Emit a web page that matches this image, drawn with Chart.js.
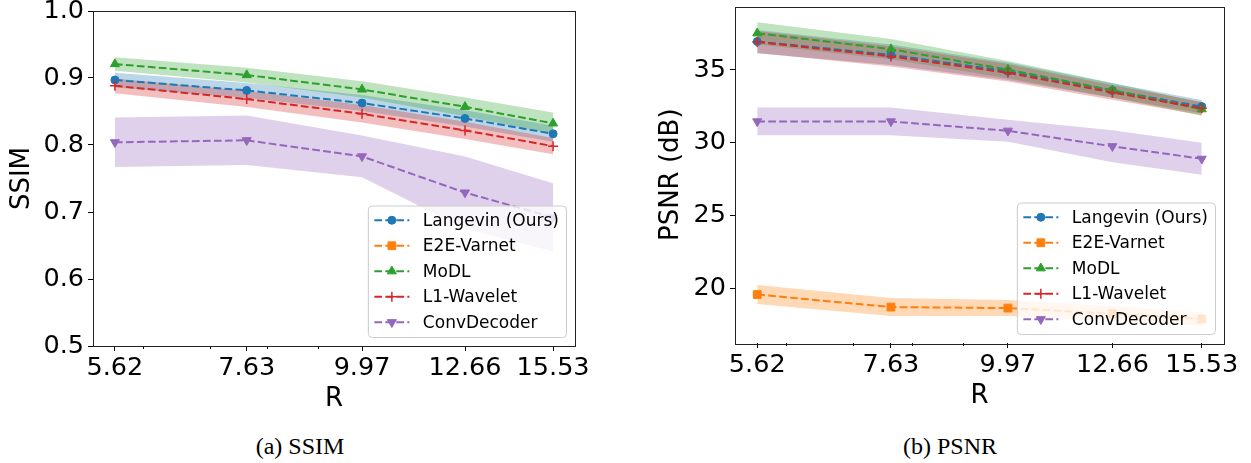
<!DOCTYPE html>
<html>
<head>
<meta charset="utf-8">
<script src="https://cdn.jsdelivr.net/npm/chart.js@4.4.0/dist/chart.umd.min.js"></script>
<style>
  body { margin: 0; background: #fff; width: 1251px; height: 463px; overflow: hidden; position: relative; }
  canvas { position: absolute; top: 0; }
  #ssim { left: 0; }
  #psnr { left: 620px; }
  .cap { position: absolute; top: 433px; font-family: 'Liberation Serif', serif; font-size: 24px; color: #000; transform: translateX(-50%); white-space: nowrap; }
</style>
</head>
<body>
<canvas id="ssim" width="620" height="420"></canvas>
<canvas id="psnr" width="631" height="420"></canvas>
<div class="cap" style="left:300px">(a) SSIM</div>
<div class="cap" style="left:950px">(b) PSNR</div>
<script>
// acceleration factors on the x axis
const R = [5.62, 7.63, 9.97, 12.66, 15.53];
const R_LABELS = ['5.62', '7.63', '9.97', '12.66', '15.53'];
const MINOR_R = [6, 7, 8, 9];

const METHODS = ['Langevin (Ours)', 'E2E-Varnet', 'MoDL', 'L1-Wavelet', 'ConvDecoder'];
const COLORS = ['31,119,180', '255,127,14', '44,160,44', '214,39,40', '148,103,189'];

// SSIM mean / std per method (E2E-Varnet falls below the plotted range)
const SSIM_LANGEVIN = [0.897, 0.8815, 0.8626, 0.8397, 0.8167];
const SSIM_LANGEVIN_STD = [0.011, 0.011, 0.012, 0.012, 0.012];
const SSIM_E2E = [null, null, null, null, null];
const SSIM_E2E_STD = [null, null, null, null, null];
const SSIM_MODL = [0.9208, 0.9044, 0.883, 0.857, 0.8323];
const SSIM_MODL_STD = [0.010, 0.011, 0.012, 0.014, 0.016];
const SSIM_L1 = [0.8884, 0.8686, 0.8466, 0.8218, 0.7983];
const SSIM_L1_STD = [0.011, 0.012, 0.013, 0.013, 0.012];
const SSIM_CONV = [0.804, 0.807, 0.783, 0.729, 0.692];
const SSIM_CONV_STD = [0.037, 0.037, 0.031, 0.054, 0.051];
const SSIM_TICKS = [0.5, 0.6, 0.7, 0.8, 0.9, 1.0];

// PSNR mean / std per method
const PSNR_LANGEVIN = [36.95, 36.04, 34.91, 33.58, 32.48];
const PSNR_LANGEVIN_STD = [0.8, 0.7, 0.6, 0.5, 0.45];
const PSNR_E2E = [19.56, 18.7, 18.63, 18.25, 17.88];
const PSNR_E2E_STD = [0.65, 0.62, 0.55, 0.5, 0.45];
const PSNR_MODL = [37.52, 36.43, 35.02, 33.6, 32.3];
const PSNR_MODL_STD = [0.75, 0.7, 0.6, 0.5, 0.45];
const PSNR_L1 = [36.92, 35.93, 34.8, 33.45, 32.36];
const PSNR_L1_STD = [0.75, 0.7, 0.6, 0.5, 0.45];
const PSNR_CONV = [31.46, 31.46, 30.82, 29.75, 28.89];
const PSNR_CONV_STD = [0.95, 0.95, 0.75, 1.1, 1.1];
const PSNR_TICKS = [20, 25, 30, 35];

const MARKERS = [
  { pointStyle: 'circle', radius: 4, rotation: 0 },
  { pointStyle: 'rect', radius: 5.5, rotation: 0 },
  { pointStyle: 'triangle', radius: 5.2, rotation: 0 },
  { pointStyle: 'cross', radius: 5, rotation: 0 },
  { pointStyle: 'triangle', radius: 5.2, rotation: 180 }
];

const FONT = "'DejaVu Sans'";

function pts(vals, off, sign) {
  return R.map((x, i) => ({
    x: x,
    y: vals[i] == null ? null : vals[i] + (off ? sign * off[i] : 0)
  }));
}

function buildDatasets(means, stds) {
  const bands = [], lines = [];
  means.forEach((m, i) => {
    const c = COLORS[i];
    bands.push({
      data: pts(m, stds[i], 1), borderColor: 'rgba(0,0,0,0)', borderWidth: 0,
      pointRadius: 0, fill: false, order: 20 - i, tension: 0
    });
    bands.push({
      data: pts(m, stds[i], -1), borderColor: 'rgba(0,0,0,0)', borderWidth: 0,
      pointRadius: 0, fill: 2 * i, backgroundColor: 'rgba(' + c + ',0.3)', order: 20 - i, tension: 0
    });
    lines.push({
      label: METHODS[i], data: pts(m), borderColor: 'rgb(' + c + ')', backgroundColor: 'rgb(' + c + ')',
      borderWidth: 2, borderDash: [7.7, 3.3], fill: false, tension: 0,
      pointStyle: MARKERS[i].pointStyle, pointRadius: MARKERS[i].radius,
      pointRotation: MARKERS[i].rotation, pointBorderWidth: i === 3 ? 1.5 : 1,
      pointBorderColor: 'rgb(' + c + ')', pointBackgroundColor: 'rgb(' + c + ')',
      order: 10 - i
    });
  });
  return bands.concat(lines);
}

// frame, minor ticks and a matplotlib-like legend in the lower right
const decor = {
  id: 'decor',
  afterDatasetsDraw(chart) {
    const ctx = chart.ctx, a = chart.chartArea, xs = chart.scales.x;
    ctx.save();
    ctx.strokeStyle = '#000';
    ctx.lineWidth = 1;
    MINOR_R.forEach(v => {
      const px = Math.round(xs.getPixelForValue(v)) + 0.5;
      ctx.beginPath();
      ctx.moveTo(px, a.bottom);
      ctx.lineTo(px, a.bottom + 3);
      ctx.stroke();
    });
    ctx.strokeStyle = '#222';
    ctx.strokeRect(Math.round(a.left) + 0.5, Math.round(a.top) + 0.5,
      Math.round(a.right - a.left), Math.round(a.bottom - a.top));

    const lines = chart.data.datasets.filter(d => d.label);
    ctx.font = '17px ' + FONT;
    const textW = Math.max(...lines.map(d => ctx.measureText(d.label).width));
    const rowH = 25.5;
    const w = 55 + textW + 7, h = lines.length * rowH + 4;
    const bx = a.right - 9 - w, by = a.bottom - 9 - h;
    ctx.beginPath();
    ctx.roundRect(bx + 0.5, by + 0.5, w, h, 4);
    ctx.fillStyle = 'rgba(255,255,255,0.8)';
    ctx.fill();
    ctx.strokeStyle = '#cccccc';
    ctx.stroke();
    lines.forEach((d, i) => {
      const cy = by + 2 + rowH * (i + 0.5);
      const hx = bx + 6.5;
      ctx.save();
      ctx.strokeStyle = d.borderColor;
      ctx.lineWidth = 2;
      ctx.setLineDash([7.7, 3.3]);
      ctx.beginPath();
      ctx.moveTo(hx, cy);
      ctx.lineTo(hx + 35, cy);
      ctx.stroke();
      ctx.restore();
      ctx.save();
      ctx.fillStyle = d.borderColor;
      ctx.strokeStyle = d.borderColor;
      ctx.lineWidth = d.pointBorderWidth;
      Chart.helpers.drawPoint(ctx, {
        pointStyle: d.pointStyle, radius: d.pointRadius, rotation: d.pointRotation,
        borderWidth: d.pointBorderWidth
      }, hx + 17.5, cy);
      ctx.restore();
      ctx.fillStyle = '#000';
      ctx.textBaseline = 'middle';
      ctx.textAlign = 'left';
      ctx.fillText(d.label, bx + 55, cy + 1);
    });
    ctx.restore();
  }
};

function makeChart(id, means, stds, yTicks, yMin, yMax, yTitle, fmt, box) {
  const span = Math.log10(R[R.length - 1]) - Math.log10(R[0]);
  const xMin = Math.pow(10, Math.log10(R[0]) - 0.05 * span);
  const xMax = Math.pow(10, Math.log10(R[R.length - 1]) + 0.05 * span);
  return new Chart(document.getElementById(id), {
    type: 'line',
    data: { datasets: buildDatasets(means, stds) },
    options: {
      responsive: false,
      animation: false,
      layout: { padding: { top: box.top, right: box.right, left: 0, bottom: 0 } },
      plugins: {
        legend: { display: false },
        tooltip: { enabled: false },
        filler: { drawTime: 'beforeDatasetsDraw', propagate: false }
      },
      scales: {
        x: {
          type: 'logarithmic', min: xMin, max: xMax,
          grid: { display: true, drawOnChartArea: false, tickLength: 5, tickColor: '#000', tickWidth: 1 },
          border: { display: false },
          ticks: {
            autoSkip: false, maxRotation: 0, padding: 2, color: '#000',
            font: { family: FONT, size: 25.5 },
            callback: (v, i) => R_LABELS[i]
          },
          title: { display: true, text: 'R', color: '#000', font: { family: FONT, size: 26 }, padding: { top: 0, bottom: box.xTitlePad } },
          afterBuildTicks: s => { s.ticks = R.map(v => ({ value: v })); },
          afterFit: s => { s.height = box.xHeight; s.paddingLeft = 0; s.paddingRight = 0; }
        },
        y: {
          min: yMin, max: yMax,
          grid: { display: true, drawOnChartArea: false, tickLength: 5, tickColor: '#000', tickWidth: 1 },
          border: { display: false },
          ticks: { padding: 4, color: '#000', font: { family: FONT, size: 25.5 }, callback: fmt },
          title: { display: true, text: yTitle, color: '#000', font: { family: FONT, size: 26 }, padding: { top: box.yTitlePad, bottom: 0 } },
          afterBuildTicks: s => { s.ticks = yTicks.map(v => ({ value: v })); },
          afterFit: s => { s.width = box.yWidth; s.paddingTop = 0; s.paddingBottom = 0; }
        }
      }
    },
    plugins: [decor]
  });
}

makeChart('ssim',
  [SSIM_LANGEVIN, SSIM_E2E, SSIM_MODL, SSIM_L1, SSIM_CONV],
  [SSIM_LANGEVIN_STD, SSIM_E2E_STD, SSIM_MODL_STD, SSIM_L1_STD, SSIM_CONV_STD],
  SSIM_TICKS, 0.5, 1.0, 'SSIM', v => v.toFixed(1),
  { top: 11, right: 45, yWidth: 93, xHeight: 74, xTitlePad: 5.5, yTitlePad: 7 });

makeChart('psnr',
  [PSNR_LANGEVIN, PSNR_E2E, PSNR_MODL, PSNR_L1, PSNR_CONV],
  [PSNR_LANGEVIN_STD, PSNR_E2E_STD, PSNR_MODL_STD, PSNR_L1_STD, PSNR_CONV_STD],
  PSNR_TICKS, 16.23, 39.36, 'PSNR (dB)', v => String(v),
  { top: 3, right: 27, yWidth: 115, xHeight: 77, xTitlePad: 8.5, yTitlePad: 36 });
</script>
</body>
</html>
